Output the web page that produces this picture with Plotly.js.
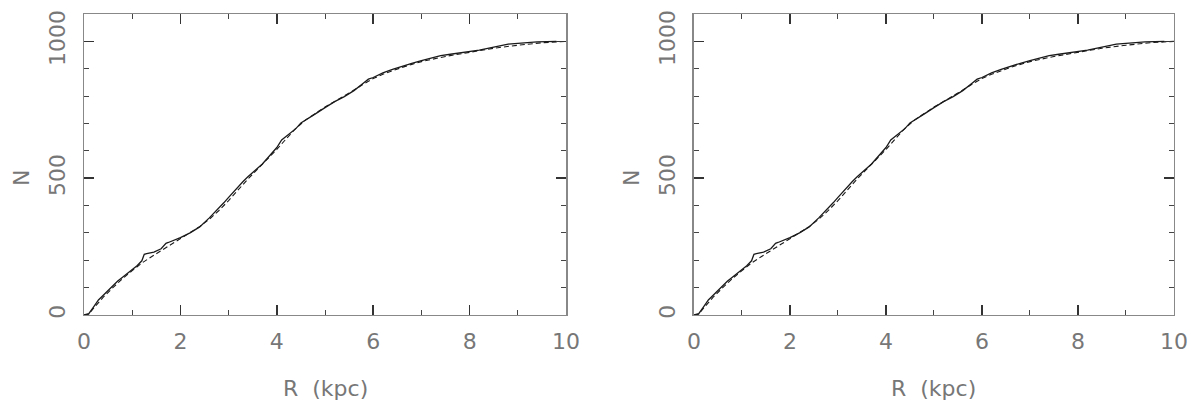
<!DOCTYPE html>
<html>
<head>
<meta charset="utf-8">
<script src="https://cdn.plot.ly/plotly-3.0.1.min.js"></script>
<style>html,body{margin:0;padding:0;background:#fff;}#chart{width:1200px;height:416px;}</style>
</head>
<body>
<div id="chart"></div>
<script>
// Observed cumulative number of objects within radius R (solid line)
const rObs = [0, 0.1, 0.2, 0.3, 0.4, 0.5, 0.6, 0.7, 0.8, 0.9, 1.0, 1.1, 1.2, 1.25, 1.3, 1.45, 1.6, 1.7, 1.75, 1.9, 2.0, 2.2, 2.4, 2.6, 2.8, 2.9, 3.0, 3.1, 3.2, 3.3, 3.4, 3.5, 3.6, 3.7, 3.8, 3.9, 4.0, 4.1, 4.2, 4.3, 4.4, 4.5, 4.6, 4.7, 4.8, 5.0, 5.2, 5.4, 5.6, 5.8, 5.9, 6.0, 6.2, 6.4, 6.6, 6.8, 7.0, 7.2, 7.4, 7.6, 7.8, 8.0, 8.2, 8.4, 8.6, 8.8, 9.0, 9.2, 9.4, 9.6, 9.8];
const nObs = [0, 5, 30, 55, 72, 90, 108, 124, 138, 152, 165, 180, 198, 222, 224, 230, 242, 262, 265, 275, 283, 300, 322, 355, 390, 410, 430, 450, 470, 488, 505, 520, 536, 552, 572, 592, 612, 640, 655, 668, 682, 702, 714, 725, 735, 758, 780, 798, 820, 848, 862, 868, 885, 898, 910, 920, 930, 940, 948, 953, 958, 962, 968, 975, 983, 990, 993, 996, 998, 999, 1000];
// Model cumulative distribution (dashed line)
const rModel = [0, 0.1, 0.2, 0.4, 0.6, 0.8, 1.0, 1.2, 1.4, 1.6, 1.8, 2.0, 2.2, 2.4, 2.6, 2.8, 3.0, 3.2, 3.4, 3.6, 3.8, 4.0, 4.2, 4.4, 4.6, 4.8, 5.0, 5.2, 5.4, 5.6, 5.8, 6.0, 6.2, 6.4, 6.6, 6.8, 7.0, 7.5, 8.0, 8.5, 9.0, 9.5, 10.0];
const nModel = [0, 3, 25, 65, 100, 133, 162, 190, 213, 235, 257, 278, 300, 323, 350, 382, 418, 458, 497, 533, 568, 605, 645, 683, 713, 738, 760, 780, 800, 822, 844, 864, 880, 893, 905, 916, 926, 945, 960, 975, 986, 995, 1000];

const xTickVals = [0, 2, 4, 6, 8, 10];
const yTickVals = [0, 500, 1000];
const xTitle = 'R  (kpc)';
const yTitle = 'N';

const ink = '#1a1a1a';
const traces = [];
[['x', 'y'], ['x2', 'y2']].forEach(([xa, ya]) => {
  traces.push({x: rObs, y: nObs, xaxis: xa, yaxis: ya, type: 'scatter', mode: 'lines',
    line: {color: ink, width: 1.3}, hoverinfo: 'skip', showlegend: false});
  traces.push({x: rModel, y: nModel, xaxis: xa, yaxis: ya, type: 'scatter', mode: 'lines',
    line: {color: ink, width: 1.1, dash: '5px,3px'}, hoverinfo: 'skip', showlegend: false});
});

const tickFont = {family: 'DejaVu Sans, sans-serif', size: 22, color: '#777'};
function xAxis(domain, anchor) {
  return {domain: domain, anchor: anchor, range: [0, 10], tickvals: xTickVals, ticktext: xTickVals.map(String),
    ticks: 'inside', ticklen: 10, tickwidth: 1.5, tickcolor: '#333', ticklabelstandoff: 6,
    minor: {dtick: 1, tick0: 0, ticks: 'inside', ticklen: 5, tickwidth: 1, tickcolor: '#444'},
    showline: true, linecolor: '#888', linewidth: 1.5, mirror: 'ticks',
    showgrid: false, zeroline: false, tickfont: tickFont, fixedrange: true};
}
function yAxis(anchor) {
  return {domain: [0.2428, 0.9663], anchor: anchor, range: [0, 1100], tickvals: yTickVals, ticktext: yTickVals.map(String),
    ticks: 'inside', ticklen: 10, tickwidth: 1.5, tickcolor: '#333', tickangle: -90, ticklabelstandoff: 9,
    minor: {dtick: 100, tick0: 0, ticks: 'inside', ticklen: 5, tickwidth: 1, tickcolor: '#444'},
    showline: true, linecolor: '#888', linewidth: 1.5, mirror: 'ticks',
    showgrid: false, zeroline: false, tickfont: tickFont, fixedrange: true};
}

const titleFont = {family: 'DejaVu Sans, sans-serif', size: 22, color: '#777'};
const annotations = [];
[[0.0700, 0.4717], [0.5783, 0.9783]].forEach(d => {
  annotations.push({text: xTitle, xref: 'paper', yref: 'paper', x: (d[0] + d[1]) / 2, y: 1 - 388 / 416,
    xanchor: 'center', yanchor: 'middle', showarrow: false, font: titleFont});
  annotations.push({text: yTitle, xref: 'paper', yref: 'paper', x: d[0] - 63 / 1200, y: 1 - 178 / 416,
    xanchor: 'center', yanchor: 'middle', showarrow: false, textangle: -90, font: titleFont});
});

const layout = {
  width: 1200, height: 416,
  margin: {l: 0, r: 0, t: 0, b: 0},
  paper_bgcolor: '#fff', plot_bgcolor: '#fff',
  xaxis: xAxis([0.0700, 0.4717], 'y'),
  yaxis: yAxis('x'),
  xaxis2: xAxis([0.5783, 0.9783], 'y2'),
  yaxis2: yAxis('x2'),
  annotations: annotations,
  showlegend: false
};

Plotly.newPlot('chart', traces, layout, {staticPlot: true, displayModeBar: false});
</script>
</body>
</html>
